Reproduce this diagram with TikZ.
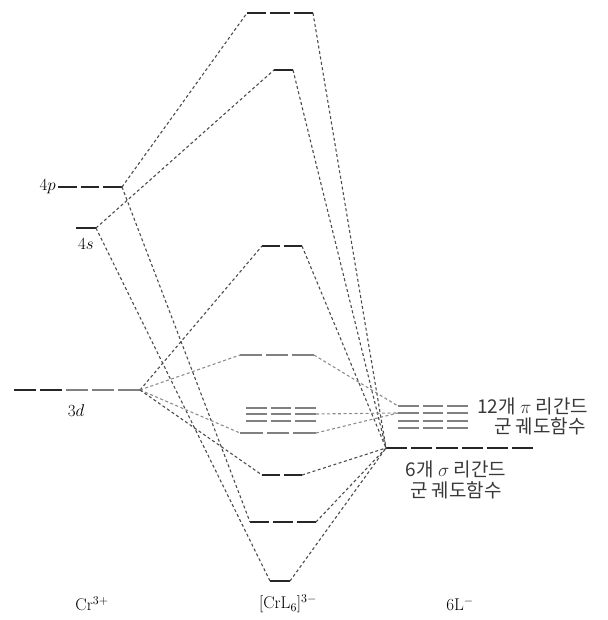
\RequirePackage{fix-cm}
\documentclass[tikz,border=0pt]{standalone}
\usepackage{fontspec}
\newfontfamily\kr{Noto Sans CJK KR}
\tikzset{
  lev/.style={line width=2.6pt, draw=black!85},
  glev/.style={line width=2.6pt, draw=black!50},
  conn/.style={dash pattern=on 3pt off 2.5pt, line width=1.1pt, draw=black!70},
  gconn/.style={dash pattern=on 3pt off 2.5pt, line width=1.1pt, draw=black!45},
  lab/.style={font=\fontsize{17}{20}\selectfont, inner sep=0pt},
  krlab/.style={font=\kr\fontsize{19}{22}\selectfont, inner sep=0pt, text=black!78}
}
\newcommand\molevel[6]{%
  \coordinate (#2L) at (#4,#6);
  \coordinate (#2R) at (#5,#6);
  \pgfmathsetmacro\segw{(#5-#4-(#3-1)*4)/#3}
  \foreach \i in {1,...,#3}{
    \draw[#1] ({#4+(\i-1)*(\segw+4)},#6) -- ++(\segw,0);
  }
}
\begin{document}
\begin{tikzpicture}[x=1pt,y=-1pt]
\useasboundingbox (0,0) rectangle (607,620);
% metal
\molevel{lev}{p}{3}{58}{122}{187}
\molevel{lev}{s}{1}{76}{96}{228}
\molevel{lev}{dA}{2}{14}{62}{390}
\molevel{glev}{d}{3}{66}{140}{390}
% complex
\molevel{lev}{top}{3}{247}{313}{13}
\molevel{lev}{aone}{1}{274}{293}{70}
\molevel{lev}{egs}{2}{262}{302}{246}
\molevel{glev}{tgs}{3}{240}{314}{355}
\molevel{glev}{nbA}{3}{246}{316}{408}
\molevel{glev}{nb}{3}{246}{316}{414}
\molevel{glev}{nbC}{3}{246}{316}{421}
\molevel{glev}{tgb}{3}{240}{316}{433}
\molevel{lev}{egb}{2}{262}{302}{475}
\molevel{lev}{tu}{3}{250}{316}{522}
\molevel{lev}{ab}{1}{270}{290}{581}
% ligands
\molevel{glev}{piA}{3}{398}{468}{406}
\molevel{glev}{pi}{3}{398}{468}{413}
\molevel{glev}{piC}{3}{398}{468}{421}
\molevel{glev}{piD}{3}{398}{468}{428}
\molevel{lev}{sig}{6}{386}{533}{448}
% connectors
\draw[conn] (pR) -- (topL);
\draw[conn] (pR) -- (tuL);
\draw[conn] (sR) -- (aoneL);
\draw[conn] (sR) -- (abL);
\draw[conn] (dR) -- (egsL);
\draw[gconn] (dR) -- (tgsL);
\draw[gconn] (dR) -- (tgbL);
\draw[conn] (dR) -- (egbL);
\draw[conn] (topR) -- (sigL);
\draw[conn] (aoneR) -- (sigL);
\draw[conn] (egsR) -- (sigL);
\draw[conn] (egbR) -- (sigL);
\draw[conn] (tuR) -- (sigL);
\draw[conn] (abR) -- (sigL);
\draw[gconn] (tgsR) -- (piAL);
\draw[gconn] (nbR) -- (piL);
\draw[gconn] (tgbR) -- (piL);
% labels
\node[lab, anchor=east] (l4p) at (56,187) {$4p$};
\node[lab] (l4s) at (86,244) {$4s$};
\node[lab] (l3d) at (76,411) {$3d$};
\node[krlab, anchor=west] (lpi1) at (477,406) {12개 $\pi$ 리간드};
\node[krlab] (lpi2) at (540,426) {군 궤도함수};
\node[krlab] (lsg1) at (456,469) {6개 $\sigma$ 리간드};
\node[krlab] (lsg2) at (456,490) {군 궤도함수};
\node[lab] (lcr) at (92,604) {Cr$^{3+}$};
\node[lab] (lcx) at (288,604) {[CrL$_6$]$^{3-}$};
\node[lab] (lL) at (460,604) {6L$^{-}$};
\end{tikzpicture}
\end{document}
